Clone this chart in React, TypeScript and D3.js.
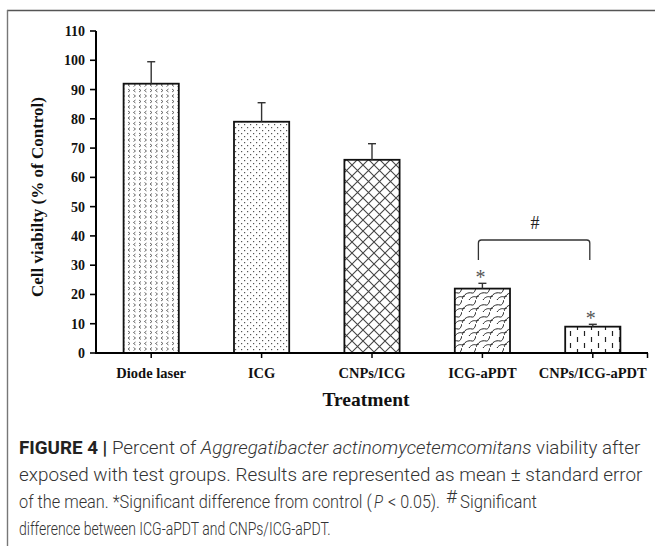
import React, { useLayoutEffect, useRef, useState } from "react";
import * as d3 from "d3";

const categories = ["Diode laser", "ICG", "CNPs/ICG", "ICG-aPDT", "CNPs/ICG-aPDT"];
const means = [92, 79, 66, 22, 9];
const errors = [7.5, 6.5, 5.5, 1.8, 0.8];
const significant = [false, false, false, true, true];
const patterns = ["divot", "dots", "diamond", "shingle", "dash"];
const yTicks = [0, 10, 20, 30, 40, 50, 60, 70, 80, 90, 100, 110];
const bracketPair = ["ICG-aPDT", "CNPs/ICG-aPDT"];
const bracketLevel = 38.6;
const bracketLeg = 31.8;
const hashLevel = 44.4;

const W = 655;
const H = 546;
const serif = "'Liberation Serif', 'Times New Roman', serif";
const sans = "Roboto, 'Liberation Sans', Arial, sans-serif";

function FitText({
  x,
  y,
  width,
  children,
  ...rest
}: {
  x: number;
  y: number;
  width: number;
  children: React.ReactNode;
  [k: string]: any;
}) {
  const ref = useRef<SVGTextElement>(null);
  const [sx, setSx] = useState(1);
  useLayoutEffect(() => {
    if (ref.current) {
      const w = ref.current.getComputedTextLength();
      if (w > 0) setSx(width / w);
    }
  }, [width]);
  return (
    <text ref={ref} transform={`translate(${x},${y}) scale(${sx},1)`} {...rest}>
      {children}
    </text>
  );
}

export default function App() {
  const y = d3.scaleLinear().domain([0, 110]).range([353, 31]);
  const x = d3.scaleBand<string>().domain(categories).range([96, 648]).padding(0);
  const bw = x.bandwidth();
  const barW = bw / 2;
  const cx = (c: string) => (x(c) as number) + bw / 2;

  const bx1 = cx(bracketPair[0]) - 4;
  const bx2 = cx(bracketPair[1]) - 3;
  const by = y(bracketLevel);
  const byLeg = y(bracketLeg);
  const r = 3;

  return (
    <svg
      width={W}
      height={H}
      style={{ position: "absolute", left: 0, top: 0, background: "#fff" }}
      xmlns="http://www.w3.org/2000/svg"
    >
      <defs>
        <pattern id="divot" width="11" height="11" patternUnits="userSpaceOnUse" x="0" y="0">
          <path d="M3.5,1 L1.5,2.5 L3.5,4" fill="none" stroke="#444" strokeWidth="0.8" />
          <path d="M7,1 L9,2.5 L7,4" fill="none" stroke="#444" strokeWidth="0.8" />
          <path d="M1.5,6.5 L3.5,8 L1.5,9.5" fill="none" stroke="#444" strokeWidth="0.8" />
          <path d="M9,6.5 L7,8 L9,9.5" fill="none" stroke="#444" strokeWidth="0.8" />
        </pattern>
        <pattern id="dots" width="6" height="6" patternUnits="userSpaceOnUse">
          <rect x="1" y="1" width="1.2" height="1.2" fill="#555" />
          <rect x="4" y="4" width="1.2" height="1.2" fill="#555" />
        </pattern>
        <pattern id="diamond" width="11" height="11" patternUnits="userSpaceOnUse">
          <path d="M0,0 L11,11 M11,0 L0,11" stroke="#444" strokeWidth="1.1" fill="none" />
        </pattern>
        <pattern id="shingle" width="14" height="12" patternUnits="userSpaceOnUse">
          <path d="M0,11 C2,6 6,4 10,5 C12,5.5 13,3 14,0" fill="none" stroke="#222" strokeWidth="1" />
          <path d="M7,12 C9,9 12,8 14,9" fill="none" stroke="#222" strokeWidth="1" />
          <path d="M0,9 C1,8.5 2,8 3,8" fill="none" stroke="#222" strokeWidth="1" />
        </pattern>
        <pattern id="dash" width="14" height="12" patternUnits="userSpaceOnUse">
          <path d="M3.5,1 L3.5,6 M10.5,7 L10.5,12" stroke="#222" strokeWidth="1.2" fill="none" />
        </pattern>
      </defs>

      {/* figure frame */}
      <line x1={7} y1={10.5} x2={W} y2={10.5} stroke="#555" strokeWidth={1.6} />
      <line x1={7.5} y1={10} x2={7.5} y2={H} stroke="#777" strokeWidth={1.4} />

      {/* bars */}
      {categories.map((c, i) => (
        <rect
          key={c}
          x={cx(c) - barW / 2}
          y={y(means[i])}
          width={barW}
          height={y(0) - y(means[i])}
          fill={`url(#${patterns[i]})`}
          stroke="#111"
          strokeWidth={1.8}
        />
      ))}

      {/* error bars */}
      {categories.map((c, i) => (
        <g key={"e" + c} stroke="#333" strokeWidth={1.4}>
          <line x1={cx(c)} x2={cx(c)} y1={y(means[i])} y2={y(means[i] + errors[i])} />
          <line x1={cx(c) - 4} x2={cx(c) + 4} y1={y(means[i] + errors[i])} y2={y(means[i] + errors[i])} />
        </g>
      ))}

      {/* significance stars */}
      {categories.map((c, i) =>
        significant[i] ? (
          <text
            key={"s" + c}
            x={cx(c) - 2}
            y={y(means[i] + errors[i]) + 1}
            textAnchor="middle"
            fontFamily={serif}
            fontSize={20}
            fill="#555"
          >
            *
          </text>
        ) : null
      )}

      {/* bracket */}
      <path
        d={`M${bx1},${byLeg} L${bx1},${by + r} Q${bx1},${by} ${bx1 + r},${by} L${bx2 - r},${by} Q${bx2},${by} ${bx2},${by + r} L${bx2},${byLeg}`}
        fill="none"
        stroke="#333"
        strokeWidth={1.3}
      />
      <text
        x={(bx1 + bx2) / 2 + 1}
        y={y(hashLevel) + 6}
        textAnchor="middle"
        fontFamily={serif}
        fontSize={18}
        fill="#222"
      >
        #
      </text>

      {/* y axis */}
      <line x1={96} x2={96} y1={y(110)} y2={y(0) + 1} stroke="#000" strokeWidth={2} />
      {yTicks.map((t) => (
        <g key={"yt" + t}>
          <line x1={90} x2={96} y1={y(t)} y2={y(t)} stroke="#000" strokeWidth={1.6} />
          <text
            x={85}
            y={y(t) + 5}
            textAnchor="end"
            fontFamily={serif}
            fontWeight="bold"
            fontSize={14}
            fill="#111"
          >
            {t}
          </text>
        </g>
      ))}

      {/* x axis */}
      <line x1={95} x2={648} y1={y(0)} y2={y(0)} stroke="#000" strokeWidth={2} />
      {categories.map((c) => (
        <g key={"xt" + c}>
          <line x1={cx(c)} x2={cx(c)} y1={y(0)} y2={y(0) + 5} stroke="#000" strokeWidth={1.5} />
          <text
            x={cx(c)}
            y={y(0) + 25}
            textAnchor="middle"
            fontFamily={serif}
            fontWeight="bold"
            fontSize={14.5}
            fill="#111"
          >
            {c}
          </text>
        </g>
      ))}
      <line x1={647.5} x2={647.5} y1={y(0)} y2={y(0) + 5} stroke="#000" strokeWidth={1.5} />

      {/* axis titles */}
      <text
        x={366}
        y={406}
        textAnchor="middle"
        fontFamily={serif}
        fontWeight="bold"
        fontSize={19.5}
        fill="#111"
      >
        Treatment
      </text>
      <text
        transform={`translate(43,${(y(0) + y(110)) / 2 + 5}) rotate(-90)`}
        textAnchor="middle"
        fontFamily={serif}
        fontWeight="bold"
        fontSize={17}
        fill="#111"
      >
        Cell viabilty (% of Control)
      </text>

      {/* caption */}
      <g fontFamily={sans} fontSize={18} fill="#333" fontWeight={300}>
        <FitText x={19} y={454} width={622}>
          <tspan fontWeight="bold" fill="#222">FIGURE 4 |</tspan> Percent of{" "}
          <tspan fontStyle="italic">Aggregatibacter actinomycetemcomitans</tspan> viability after
        </FitText>
        <FitText x={19} y={481} width={624}>
          exposed with test groups. Results are represented as mean ± standard error
        </FitText>
        <FitText x={19} y={508} width={353}>
          of the mean. *Significant difference from control (
        </FitText>
        <FitText x={374} y={508} width={9} fontStyle="italic">P</FitText>
        <FitText x={388} y={508} width={52}>{"< 0.05)."}</FitText>
        <FitText x={446} y={503} width={11} fontSize={19}>#</FitText>
        <FitText x={460} y={508} width={77}>Significant</FitText>
        <FitText x={19} y={535} width={312}>
          difference between ICG-aPDT and CNPs/ICG-aPDT.
        </FitText>
      </g>
    </svg>
  );
}
